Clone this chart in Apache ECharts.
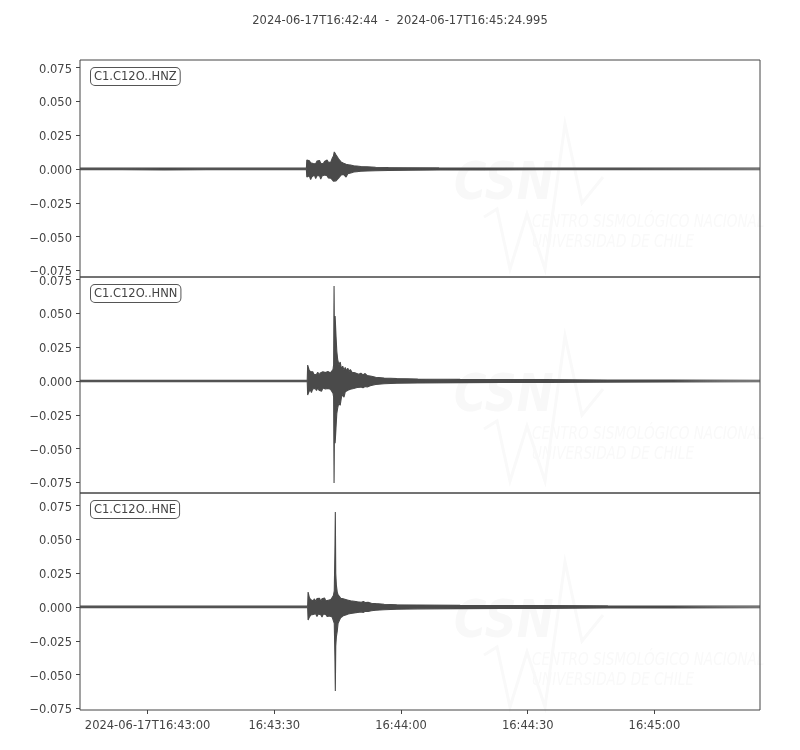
<!DOCTYPE html>
<html>
<head>
<meta charset="utf-8">
<script src="https://cdn.jsdelivr.net/npm/echarts@6/dist/echarts.min.js"></script>
<style>html,body{margin:0;padding:0;background:#fff}#c{width:800px;height:750px}</style>
</head>
<body>
<div id="c"></div>
<script>
// seconds from 2024-06-17T16:42:44
const startLabel = "2024-06-17T16:42:44";
const endLabel = "2024-06-17T16:45:24.995";
const tMax = 160.995;
const traceNames = ["C1.C12O..HNZ", "C1.C12O..HNN", "C1.C12O..HNE"];
const xTickSeconds = [16, 46, 76, 106, 136];
const xTickLabels = ["2024-06-17T16:43:00", "16:43:30", "16:44:00", "16:44:30", "16:45:00"];
const yTicks = [-0.075, -0.05, -0.025, 0, 0.025, 0.05, 0.075];
const yMins = [-0.0799, -0.0828, -0.0762];
const yMaxs = [0.0806, 0.0769, 0.0843];

// HNZ envelope (time s, upper, lower)
const tZ = [0,10,20,30,40,50,53.6,53.7,54.0,54.3,54.6,54.9,55.2,55.5,55.8,56.1,56.4,56.7,57.0,57.3,57.6,57.9,58.2,58.5,58.8,59.1,59.4,59.7,60.0,60.2,60.4,60.6,60.9,61.2,61.5,61.8,62.1,62.4,62.7,63.0,63.4,63.8,64.3,64.8,65.5,66.5,68,70,73,78,85,95,110,130,160.995];
const upZ = [0.0006,0.0006,0.0007,0.0006,0.0006,0.0006,0.0006,0.0067,0.0055,0.0060,0.0045,0.0058,0.0040,0.0050,0.0038,0.0058,0.0045,0.0062,0.0042,0.0050,0.0040,0.0055,0.0048,0.0066,0.0050,0.0060,0.0052,0.0078,0.0095,0.0126,0.0118,0.0105,0.0090,0.0075,0.0068,0.0052,0.0058,0.0042,0.0045,0.0035,0.0038,0.0030,0.0028,0.0024,0.0022,0.0018,0.0016,0.0013,0.0011,0.0009,0.0008,0.0007,0.0006,0.0006,0.0006];
const loZ = [-0.0006,-0.0006,-0.0007,-0.0006,-0.0006,-0.0006,-0.0006,-0.0060,-0.0072,-0.0050,-0.0078,-0.0058,-0.0065,-0.0045,-0.0070,-0.0050,-0.0062,-0.0048,-0.0075,-0.0052,-0.0060,-0.0045,-0.0058,-0.0050,-0.0066,-0.0055,-0.0068,-0.0080,-0.0090,-0.0104,-0.0098,-0.0088,-0.0075,-0.0068,-0.0055,-0.0045,-0.0048,-0.0040,-0.0042,-0.0060,-0.0035,-0.0030,-0.0028,-0.0022,-0.0020,-0.0017,-0.0015,-0.0013,-0.0011,-0.0009,-0.0008,-0.0007,-0.0006,-0.0006,-0.0006];

// HNN envelope
const tN = [0,10,20,30,40,50,53.8,53.9,54.2,54.5,54.8,55.1,55.4,55.7,56.0,56.3,56.6,56.9,57.2,57.5,57.8,58.1,58.4,58.7,59.0,59.3,59.6,59.9,60.05,60.15,60.25,60.4,60.6,60.8,61.0,61.3,61.6,61.9,62.2,62.5,62.8,63.1,63.4,63.7,64.0,64.4,64.8,65.2,65.6,66.0,66.5,67.0,67.5,68.0,69,70,72,75,80,90,100,110,125,140,160.995];
const upN = [0.0006,0.0006,0.0006,0.0006,0.0006,0.0006,0.0006,0.0118,0.0085,0.0070,0.0060,0.0068,0.0048,0.0062,0.0050,0.0065,0.0045,0.0060,0.0052,0.0068,0.0055,0.0062,0.0050,0.0070,0.0080,0.0060,0.0072,0.0085,0.0120,0.0703,0.0200,0.0480,0.0340,0.0220,0.0160,0.0120,0.0140,0.0090,0.0110,0.0080,0.0100,0.0075,0.0095,0.0070,0.0085,0.0065,0.0078,0.0060,0.0068,0.0050,0.0058,0.0045,0.0055,0.0040,0.0035,0.0028,0.0022,0.0018,0.0015,0.0012,0.0011,0.0010,0.0008,0.0007,0.0006];
const loN = [-0.0006,-0.0006,-0.0006,-0.0006,-0.0006,-0.0006,-0.0006,-0.0103,-0.0080,-0.0065,-0.0085,-0.0058,-0.0072,-0.0055,-0.0070,-0.0050,-0.0068,-0.0055,-0.0075,-0.0052,-0.0065,-0.0058,-0.0070,-0.0055,-0.0068,-0.0060,-0.0075,-0.0090,-0.0120,-0.0754,-0.0300,-0.0460,-0.0350,-0.0240,-0.0200,-0.0160,-0.0180,-0.0120,-0.0100,-0.0120,-0.0080,-0.0090,-0.0068,-0.0080,-0.0060,-0.0070,-0.0055,-0.0062,-0.0048,-0.0055,-0.0045,-0.0050,-0.0040,-0.0045,-0.0032,-0.0026,-0.0020,-0.0017,-0.0014,-0.0012,-0.0011,-0.0010,-0.0008,-0.0007,-0.0006];

// HNE envelope
const tE = [0,10,20,30,40,50,53.9,54.0,54.3,54.6,54.9,55.2,55.5,55.8,56.1,56.4,56.7,57.0,57.3,57.6,57.9,58.2,58.5,58.8,59.1,59.4,59.7,60.0,60.2,60.35,60.45,60.55,60.7,60.9,61.1,61.4,61.7,62.0,62.3,62.6,62.9,63.2,63.5,63.8,64.1,64.5,64.9,65.3,65.7,66.1,66.6,67.1,67.6,68.2,69,70,72,75,80,90,100,110,125,140,160.995];
const upE = [0.0006,0.0006,0.0006,0.0006,0.0006,0.0006,0.0006,0.0110,0.0070,0.0055,0.0066,0.0045,0.0060,0.0040,0.0062,0.0048,0.0065,0.0042,0.0060,0.0050,0.0066,0.0045,0.0058,0.0050,0.0062,0.0055,0.0068,0.0085,0.0120,0.0400,0.0703,0.0250,0.0160,0.0110,0.0090,0.0080,0.0065,0.0075,0.0060,0.0070,0.0055,0.0062,0.0050,0.0058,0.0045,0.0052,0.0042,0.0048,0.0038,0.0045,0.0035,0.0040,0.0032,0.0034,0.0028,0.0025,0.0020,0.0017,0.0015,0.0012,0.0011,0.0010,0.0008,0.0007,0.0006];
const loE = [-0.0006,-0.0006,-0.0006,-0.0006,-0.0006,-0.0006,-0.0006,-0.0096,-0.0075,-0.0060,-0.0072,-0.0055,-0.0068,-0.0050,-0.0070,-0.0052,-0.0066,-0.0058,-0.0074,-0.0052,-0.0065,-0.0055,-0.0070,-0.0058,-0.0066,-0.0060,-0.0075,-0.0085,-0.0120,-0.0360,-0.0621,-0.0290,-0.0220,-0.0180,-0.0120,-0.0100,-0.0080,-0.0085,-0.0065,-0.0075,-0.0060,-0.0068,-0.0052,-0.0060,-0.0048,-0.0055,-0.0045,-0.0050,-0.0040,-0.0045,-0.0036,-0.0040,-0.0032,-0.0034,-0.0028,-0.0024,-0.0020,-0.0017,-0.0014,-0.0012,-0.0011,-0.0010,-0.0008,-0.0007,-0.0006];

const traces = [[tZ, upZ, loZ], [tN, upN, loN], [tE, upE, loE]];
const C = '#4a4a4a';
const FONT = 'DejaVu Sans';
const grids = [{top:60,height:217},{top:277,height:216},{top:493,height:217}].map(g => ({
  left:80, right:40, top:g.top, height:g.height, show:true, borderColor:'#444', borderWidth:1, backgroundColor:'transparent'
}));
const fmtY = v => '{a|' + (v < 0 ? '\u2212' : '') + Math.abs(v).toFixed(3) + '}';
const xAxes = grids.map((g, i) => ({
  type:'value', gridIndex:i, min:0, max:tMax,
  axisLine:{show:false, onZero:false}, splitLine:{show:false},
  axisTick:{show:i===2, inside:false, length:4, lineStyle:{color:'#444'}, customValues:xTickSeconds},
  axisLabel:{show:i===2, customValues:xTickSeconds, color:'#444', fontFamily:FONT, fontSize:11.5, margin:10,
    formatter: v => { const k = xTickSeconds.findIndex(s => Math.abs(s - v) < 1e-6); return k >= 0 ? xTickLabels[k] : ''; }}
}));
const yAxes = grids.map((g, i) => ({
  type:'value', gridIndex:i, min:yMins[i], max:yMaxs[i],
  axisLine:{show:false, onZero:false}, splitLine:{show:false},
  axisTick:{show:true, inside:false, length:4, lineStyle:{color:'#444'}, customValues:yTicks},
  axisLabel:{customValues:yTicks, color:'#444', fontFamily:FONT, fontSize:11.5, margin:8, formatter: fmtY,
    rich:{a:{color:'#444', fontFamily:FONT, fontSize:11.5, padding:[4,0,0,0]}}}
}));
const series = [];
traces.forEach((tr, i) => {
  const [t, up, lo] = tr;
  [up, lo].forEach(arr => {
    series.push({
      type:'line', xAxisIndex:i, yAxisIndex:i, symbol:'none', silent:true, animation:false,
      data: t.map((tt, k) => [tt, arr[k]]),
      lineStyle:{color:C, width:1.1}, areaStyle:{color:C, opacity:1, origin:0}, z:3
    });
  });
});
const graphic = [{
  type:'text', left:'center', top:15,
  style:{text:startLabel + '  -  ' + endLabel, fill:'#444', font:'11.5px "DejaVu Sans"'}
}];
const zeroY = [169, 381, 607];
grids.forEach((g, i) => {
  const zy = zeroY[i];
  // faint watermark
  graphic.push({type:'text', x:454, y:zy - 10, z:-1, scaleX:0.85, style:{text:'CSN', fill:'#f8f8f8', font:'italic bold 52px "DejaVu Sans"'}});
  graphic.push({type:'text', x:532, y:zy + 44, z:-1, scaleX:0.8, style:{text:'CENTRO SISMOLÓGICO NACIONAL\nUNIVERSIDAD DE CHILE', fill:'#f9f9f9', font:'italic 17px "DejaVu Sans"', lineHeight:20}});
  graphic.push({type:'polyline', z:-1, shape:{points:[[484,zy+48],[497,zy+40],[510,zy+100],[527,zy+45],[545,zy+100],[565,zy-45],[582,zy+34],[603,zy+8]]}, style:{stroke:'#f9f9f9', lineWidth:3, fill:null}});
  graphic.push({type:'text', x:91, y:g.top+8, z:10, style:{
    text:traceNames[i], fill:'#444', font:'11.5px "DejaVu Sans"',
    backgroundColor:'#fff', borderColor:'#555', borderWidth:1, borderRadius:4, padding:[3,3,2,3]
  }});
});
const chart = echarts.init(document.getElementById('c'), null, {renderer:'canvas'});
chart.setOption({animation:false, grid:grids, xAxis:xAxes, yAxis:yAxes, series:series, graphic:graphic});
</script>
</body>
</html>
